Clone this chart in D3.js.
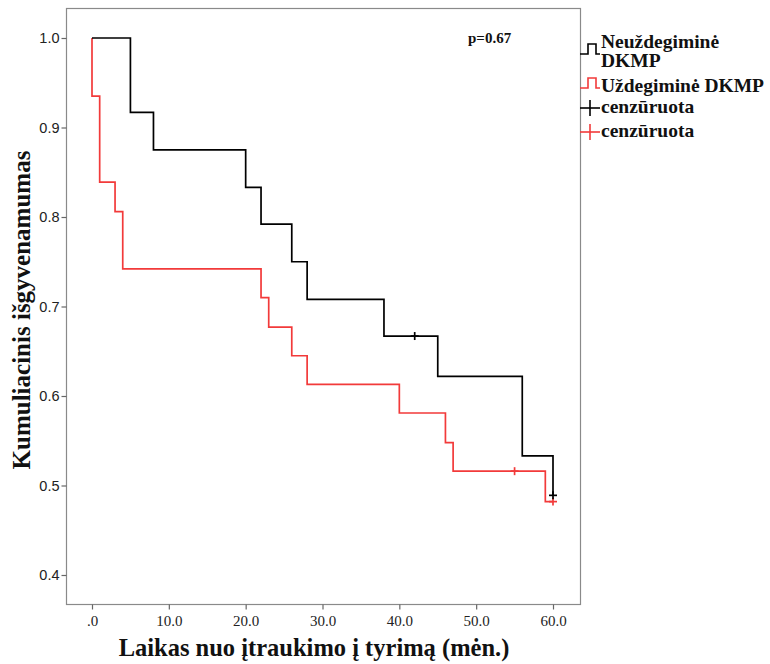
<!DOCTYPE html>
<html><head><meta charset="utf-8">
<script src="https://cdn.jsdelivr.net/npm/d3@7"></script>
<style>
html,body{margin:0;padding:0;background:#fff;}
svg{display:block;}
</style></head>
<body>
<script>
// ---- data ----
const groups = ["Neuždegiminė DKMP", "Uždegiminė DKMP"];
const blackTimes = [0, 5, 8, 20, 22, 26, 28, 38, 45, 56, 60];
const blackSurv  = [1.0, 0.917, 0.875, 0.833, 0.792, 0.750, 0.708, 0.667, 0.622, 0.533, 0.489];
const blackCensor = [42, 60];
const redTimes = [0, 0, 1, 3, 4, 22, 23, 26, 28, 40, 46, 47, 59, 60];
const redSurv  = [1.0, 0.935, 0.839, 0.806, 0.742, 0.710, 0.677, 0.645, 0.613, 0.581, 0.548, 0.516, 0.482, 0.482];
const redCensor = [55, 60];
const xTicks = [0, 10, 20, 30, 40, 50, 60];
const yTicks = [0.4, 0.5, 0.6, 0.7, 0.8, 0.9, 1.0];
const legendLabels = [["Neuždegiminė", "DKMP"], ["Uždegiminė DKMP"], ["cenzūruota"], ["cenzūruota"]];
const pValue = "p=0.67";
const xTitle = "Laikas nuo įtraukimo į tyrimą (mėn.)";
const yTitle = "Kumuliacinis išgyvenamumas";

const W = 770, H = 664;
const frame = {l: 66, t: 8, r: 580, b: 604};
const BLACK = "#000", RED = "#f23a3a";

const svg = d3.select("body").append("svg").attr("width", W).attr("height", H);

const x = d3.scaleLinear().domain([0, 60]).range([92, 553]);
const y = d3.scaleLinear().domain([0.4, 1.0]).range([575, 38]);

// frame
svg.append("rect").attr("x", frame.l + 0.5).attr("y", frame.t + 0.5)
  .attr("width", frame.r - frame.l).attr("height", frame.b - frame.t)
  .attr("fill", "none").attr("stroke", "#8a8a8a").attr("stroke-width", 1.2);

// axes
const yAxis = d3.axisLeft(y).tickValues(yTicks).tickFormat(d3.format(".1f")).tickSize(5).tickPadding(2);
const gy = svg.append("g").attr("transform", `translate(${frame.l + 0.5},0)`).call(yAxis);
gy.select(".domain").remove();
gy.selectAll("line").attr("stroke", "#666").attr("stroke-width", 1.2);
gy.selectAll("text").attr("font-family", "Liberation Sans, Arial, sans-serif").attr("font-size", 14.5).attr("fill", "#222");

const xAxis = d3.axisBottom(x).tickValues(xTicks).tickFormat(d => d === 0 ? ".0" : d.toFixed(1)).tickSize(5).tickPadding(6);
const gx = svg.append("g").attr("transform", `translate(0,${frame.b + 0.5})`).call(xAxis);
gx.select(".domain").remove();
gx.selectAll("line").attr("stroke", "#666").attr("stroke-width", 1.2);
gx.selectAll("text").attr("font-family", "Liberation Serif, Times New Roman, serif").attr("font-size", 15).attr("fill", "#222");

// curves
const line = d3.line().x(d => x(d[0])).y(d => y(d[1])).curve(d3.curveStepAfter);
function survAt(times, surv, t) {
  let s = surv[0];
  for (let i = 0; i < times.length; i++) if (times[i] <= t) s = surv[i];
  return s;
}
function drawCurve(times, surv, censor, color) {
  const pts = times.map((t, i) => [t, surv[i]]);
  svg.append("path").attr("d", line(pts)).attr("fill", "none")
    .attr("stroke", color).attr("stroke-width", 1.7);
  censor.forEach(t => {
    const cx = x(t), cy = y(survAt(times, surv, t));
    svg.append("line").attr("x1", cx).attr("x2", cx).attr("y1", cy - 4).attr("y2", cy + 4)
      .attr("stroke", color).attr("stroke-width", 1.7);
    svg.append("line").attr("x1", cx - 4).attr("x2", cx + 4).attr("y1", cy).attr("y2", cy)
      .attr("stroke", color).attr("stroke-width", 1.7);
  });
}
drawCurve(redTimes, redSurv, redCensor, RED);
drawCurve(blackTimes, blackSurv, blackCensor, BLACK);

// p value
svg.append("text").attr("x", 468).attr("y", 43).text(pValue)
  .attr("font-family", "Liberation Serif, Times New Roman, serif").attr("font-weight", "bold")
  .attr("font-size", 15).attr("fill", "#111");

// legend
const lg = svg.append("g");
const serif = "Liberation Serif, Times New Roman, serif";
function stepIcon(yb, color) {
  lg.append("path").attr("d", `M580,${yb} H588 V${yb - 10} H596 V${yb} H600`)
    .attr("fill", "none").attr("stroke", color).attr("stroke-width", 1.6);
}
function plusIcon(cy, color) {
  lg.append("line").attr("x1", 580).attr("x2", 600).attr("y1", cy).attr("y2", cy).attr("stroke", color).attr("stroke-width", 1.6);
  lg.append("line").attr("x1", 590).attr("x2", 590).attr("y1", cy - 8).attr("y2", cy + 8).attr("stroke", color).attr("stroke-width", 1.6);
}
stepIcon(54, BLACK);
stepIcon(88, RED);
plusIcon(108, BLACK);
plusIcon(132, RED);
const legendY = [[48, 67], [92], [113], [137]];
legendLabels.forEach((lines, i) => {
  lines.forEach((s, j) => {
    lg.append("text").attr("x", 601).attr("y", legendY[i][j]).text(s)
      .attr("font-family", serif).attr("font-weight", "bold").attr("font-size", 19.5).attr("fill", "#111");
  });
});

// axis titles
svg.append("text").attr("x", 314).attr("y", 656).attr("text-anchor", "middle").text(xTitle)
  .attr("font-family", serif).attr("font-weight", "bold").attr("font-size", 24.5).attr("fill", "#111");
svg.append("text").attr("transform", "translate(30,310) rotate(-90)").attr("text-anchor", "middle").text(yTitle)
  .attr("font-family", serif).attr("font-weight", "bold").attr("font-size", 25).attr("fill", "#111");
</script>
</body></html>
